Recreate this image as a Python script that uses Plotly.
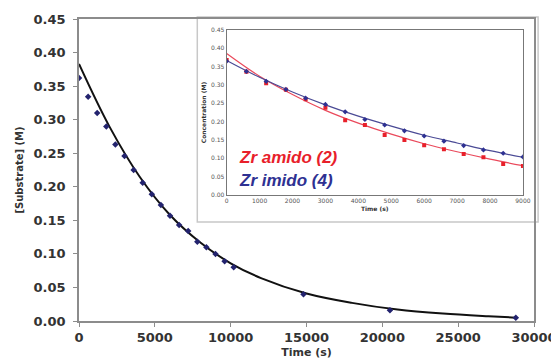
import plotly.graph_objects as go

# ---- main chart data ----
main_t = [0, 600, 1200, 1800, 2400, 3000, 3600, 4200, 4800, 5400, 6000, 6600,
          7200, 7800, 8400, 9000, 9600, 10200, 14800, 20500, 28800]
main_c = [0.362, 0.334, 0.310, 0.290, 0.263, 0.246, 0.225, 0.206, 0.189, 0.173,
          0.157, 0.143, 0.134, 0.118, 0.110, 0.100, 0.089, 0.080, 0.040, 0.016, 0.005]
fit_t = [0, 2000, 4000, 6000, 8000, 10000, 12000, 15000, 18000, 21000, 24000, 27000, 28800]
fit_c = [0.383, 0.290, 0.215, 0.158, 0.117, 0.086, 0.064, 0.041, 0.027, 0.017, 0.011, 0.007, 0.005]

main_xticks = [0, 5000, 10000, 15000, 20000, 25000, 30000]
main_yticks = [0.00, 0.05, 0.10, 0.15, 0.20, 0.25, 0.30, 0.35, 0.40, 0.45]

# ---- inset data ----
inset_t = [0, 600, 1200, 1800, 2400, 3000, 3600, 4200, 4800, 5400, 6000, 6600,
           7200, 7800, 8400, 9000]
amido_c = [0.368, 0.336, 0.305, 0.287, 0.261, 0.238, 0.204, 0.191, 0.164, 0.150,
           0.136, 0.125, 0.112, 0.103, 0.085, 0.079]
imido_c = [0.365, 0.337, 0.310, 0.288, 0.264, 0.247, 0.227, 0.206, 0.191, 0.175,
           0.161, 0.147, 0.135, 0.123, 0.114, 0.104]
inset_fit_t = [0, 1000, 2000, 3000, 4000, 5000, 6000, 7000, 8000, 9000]
amido_fit = [0.386, 0.324, 0.274, 0.231, 0.196, 0.166, 0.140, 0.118, 0.098, 0.080]
imido_fit = [0.367, 0.321, 0.281, 0.246, 0.215, 0.188, 0.163, 0.142, 0.121, 0.103]

inset_xticks = [0, 1000, 2000, 3000, 4000, 5000, 6000, 7000, 8000, 9000]
inset_yticks = [0.00, 0.05, 0.10, 0.15, 0.20, 0.25, 0.30, 0.35, 0.40, 0.45]

NAVY = "#23236e"
RED = "#e8202a"
BLUE = "#2e3192"

fig = go.Figure()

# main
fig.add_trace(go.Scatter(x=fit_t, y=fit_c, mode="lines", line=dict(color="#111111", width=2, shape="spline"),
                         showlegend=False, xaxis="x", yaxis="y"))
fig.add_trace(go.Scatter(x=main_t, y=main_c, mode="markers",
                         marker=dict(symbol="diamond", size=5, color=NAVY),
                         showlegend=False, xaxis="x", yaxis="y"))

# inset
fig.add_trace(go.Scatter(x=inset_fit_t, y=amido_fit, mode="lines", line=dict(color="#ea4a5c", width=1.2, shape="spline"),
                         showlegend=False, xaxis="x2", yaxis="y2"))
fig.add_trace(go.Scatter(x=inset_fit_t, y=imido_fit, mode="lines", line=dict(color="#4a4a95", width=1.2, shape="spline"),
                         showlegend=False, xaxis="x2", yaxis="y2"))
fig.add_trace(go.Scatter(x=inset_t, y=amido_c, mode="markers",
                         marker=dict(symbol="square", size=4, color=RED),
                         showlegend=False, xaxis="x2", yaxis="y2"))
fig.add_trace(go.Scatter(x=inset_t, y=imido_c, mode="markers",
                         marker=dict(symbol="diamond", size=4, color=BLUE),
                         showlegend=False, xaxis="x2", yaxis="y2"))

tickf = dict(family="DejaVu Sans", size=13, color="#333333", weight="bold")
insf = dict(family="DejaVu Sans", size=6, color="#555555")

# page body has an 8px margin, so the figure is drawn at (8, 8)
fig.update_layout(
    width=551, height=356,
    margin=dict(l=71, r=25, t=11, b=43),
    paper_bgcolor="white", plot_bgcolor="white",
    xaxis=dict(domain=[0, 1], range=[0, 30000], tickvals=main_xticks,
               ticktext=[str(v) for v in main_xticks], automargin=False,
               showgrid=False, zeroline=False, showline=True, linecolor="#8c8c8c",
               linewidth=1.5, mirror=True, ticks="outside", ticklen=4, tickcolor="#8c8c8c",
               tickfont=tickf,
               title=dict(text="Time (s)", font=dict(family="DejaVu Sans", size=11, color="#333333", weight="bold"),
                          standoff=4)),
    yaxis=dict(domain=[0, 1], range=[0, 0.45], tickvals=main_yticks, tickformat=".2f",
               automargin=False, ticklabelstandoff=5,
               showgrid=False, zeroline=False, showline=True, linecolor="#8c8c8c",
               linewidth=1.5, mirror=True, ticks="outside", ticklen=4, tickcolor="#8c8c8c",
               tickfont=tickf,
               title=dict(text="[Substrate] (M)", font=dict(family="DejaVu Sans", size=10, color="#333333", weight="bold"),
                          standoff=8)),
    xaxis2=dict(domain=[0.3245, 0.9757], anchor="y2", range=[0, 9000], tickvals=inset_xticks,
                ticktext=[str(v) for v in inset_xticks], automargin=False,
                showgrid=False, zeroline=False, showline=True, linecolor="#777777", linewidth=1,
                mirror=True, ticks="", tickfont=insf,
                title=dict(text="Time (s)", font=dict(family="DejaVu Sans", size=6, color="#333333", weight="bold"),
                           standoff=3)),
    yaxis2=dict(domain=[0.417, 0.9636], anchor="x2", range=[0, 0.45], tickvals=inset_yticks, tickformat=".2f",
                automargin=False,
                showgrid=False, zeroline=False, showline=True, linecolor="#777777", linewidth=1,
                mirror=True, ticks="", tickfont=insf,
                title=dict(text="Concentration (M)", font=dict(family="DejaVu Sans", size=6, color="#333333", weight="bold"),
                           standoff=3)),
    shapes=[dict(type="rect", xref="paper", yref="paper", x0=0.26, x1=1.009, y0=0.328, y1=1.0066,
                 line=dict(color="#c8c8c8", width=1.5), fillcolor="white", layer="below")],
    annotations=[
        dict(text="<b><i>Zr amido (2)</i></b>", xref="paper", yref="paper", x=0.347, y=0.543,
             xanchor="left", yanchor="middle", showarrow=False,
             font=dict(family="Liberation Sans", size=17, color=RED)),
        dict(text="<b><i>Zr imido (4)</i></b>", xref="paper", yref="paper", x=0.347, y=0.4636,
             xanchor="left", yanchor="middle", showarrow=False,
             font=dict(family="Liberation Sans", size=17, color=BLUE)),
    ],
)

fig.write_html("out.html")
